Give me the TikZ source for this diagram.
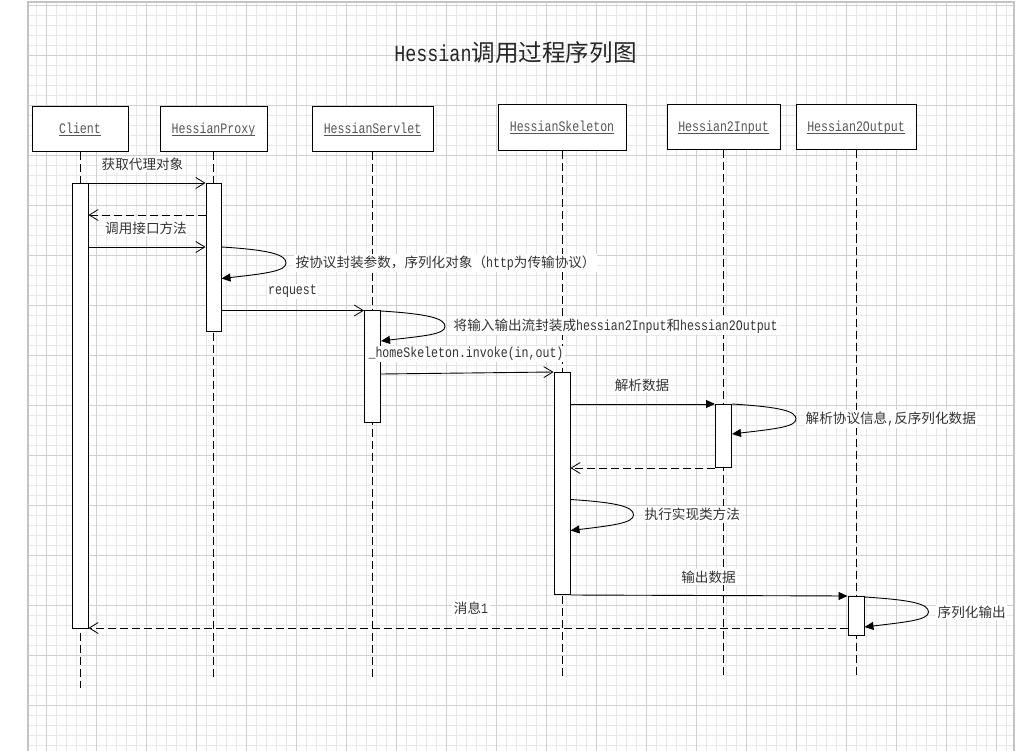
\documentclass[tikz,border=0pt]{standalone}
\usepackage{fontspec}
\newfontfamily\latin[FakeStretch=0.8]{Liberation Mono}
\newfontfamily\cjk{Noto Sans CJK SC}
\usetikzlibrary{arrows.meta,calc}

% Latin runs use a narrow monospaced face, Chinese the CJK face
\newcommand\lt[1]{{\latin\fontsize{14.5}{16}\selectfont #1}}

\definecolor{gridminor}{HTML}{E8E8E8}
\definecolor{gridmajor}{HTML}{D0D0D0}
\definecolor{gridframe}{HTML}{C4C4C4}
\definecolor{labelgray}{HTML}{333333}
\definecolor{headgray}{HTML}{555555}

\tikzset{
  headbox/.style={draw=black, line width=1pt, fill=white, minimum height=45pt, inner sep=0pt},
  lifeline/.style={draw=black, line width=1pt, dash pattern=on 8pt off 4pt},
  bar/.style={draw=black, line width=1pt, fill=white, minimum width=16pt, inner sep=0pt, anchor=north},
  msg/.style={draw=black, line width=0.9pt, -{Straight Barb[length=9pt,width=11pt,line width=0.8pt]}},
  ret/.style={msg, dash pattern=on 8pt off 4pt},
  sync/.style={draw=black, line width=0.9pt, -{Triangle[length=9pt,width=8pt]}},
  selfcall/.style={sync},
  lbl/.style={fill=white, inner sep=1.5pt, text=labelgray, font=\cjk\fontsize{13.6}{15}\selectfont},
  latinlbl/.style={lbl, font=\latin\fontsize{14.5}{16}\selectfont},
}

\begin{document}
\begin{tikzpicture}[x=1pt,y=-1pt]
\useasboundingbox (0,0) rectangle (1016,751);
\fill[white] (0,0) rectangle (1016,751);

% background grid
\begin{scope}
  \clip (28,2) rectangle (1014,751);
  \foreach \gx in {36.5,46.5,...,1010} \draw[gridminor, line width=0.8pt] (\gx,2) -- (\gx,751);
  \foreach \gy in {5.3,15.3,...,750} \draw[gridminor, line width=0.8pt] (28,\gy) -- (1014,\gy);
  \foreach \gx in {46.5,96.5,...,1010} \draw[gridmajor, line width=0.9pt] (\gx,2) -- (\gx,751);
  \foreach \gy in {5.3,55.3,...,750} \draw[gridmajor, line width=0.9pt] (28,\gy) -- (1014,\gy);
\end{scope}
\draw[gridframe, line width=1.3pt] (28,751) -- (28,2) -- (1014,2) -- (1014,751);

% title
\node[text=black!85] (title) at (515.5,53)
  {\latin\fontsize{23}{26}\selectfont Hessian{\cjk\fontsize{23.6}{26}\selectfont 调用过程序列图}};

% participants
\node[headbox, minimum width=96pt]  (client)   at (80,129.5)  {};
\node[headbox, minimum width=107pt] (proxy)    at (213.5,129.5) {};
\node[headbox, minimum width=121pt] (servlet)  at (372.5,129.5) {};
\node[headbox, minimum width=128pt, minimum height=46pt] (skeleton) at (562,128) {};
\node[headbox, minimum width=113pt] (input)    at (723.5,127.5) {};
\node[headbox, minimum width=120pt] (output)   at (856,127.5) {};

\foreach \p/\t in {client/Client, proxy/HessianProxy, servlet/HessianServlet,
                   skeleton/HessianSkeleton, input/Hessian2Input, output/Hessian2Output}
  \node[text=headgray, font=\latin\fontsize{14.5}{16}\selectfont, anchor=base, inner sep=0pt]
    at ($(\p.center)+(0,4)$) {\underline{\smash{\t}}};

% lifelines
\coordinate (clientEnd)   at (client.south |- 0,688);
\coordinate (proxyEnd)    at (proxy.south |- 0,677);
\coordinate (servletEnd)  at (servlet.south |- 0,677);
\coordinate (skeletonEnd) at (skeleton.south |- 0,677);
\coordinate (inputEnd)    at (input.south |- 0,677);
\coordinate (outputEnd)   at (output.south |- 0,677);
\foreach \p in {client, proxy, servlet, skeleton, input, output}
  \draw[lifeline] (\p.south) -- (\p End);

% activation bars
\node[bar, minimum height=445pt] (cb) at (client.south |- 0,183) {};
\node[bar, minimum height=148pt, minimum width=15pt] (pb) at (proxy.south |- 0,183) {};
\node[bar, minimum height=112pt] (sb) at (servlet.south |- 0,310) {};
\node[bar, minimum height=222pt] (kb) at (skeleton.south |- 0,372) {};
\node[bar, minimum height=63pt]  (ib) at (input.south |- 0,404) {};
\node[bar, minimum height=39pt]  (ob) at (output.south |- 0,596) {};

% messages
\draw[msg] (cb.east |- 0,183) -- (pb.west |- 0,183);
\node[lbl] (m1) at (142.5,164) {获取代理对象};

\draw[ret] (pb.west |- 0,215) -- (cb.east |- 0,215);

\draw[msg] (cb.east |- 0,247) -- (pb.west |- 0,247);
\node[lbl] (m2) at (146,228) {调用接口方法};

\coordinate (t1) at (286,263);
\draw[selfcall] (pb.east |- 0,247) .. controls +(50,3) and +(0,-8) .. (t1)
  .. controls +(0,8) and +(45,-5) .. (pb.east |- 0,278.5);
\node[lbl, anchor=west] (m3) at (294,263) {按协议封装参数，序列化对象（\lt{http}为传输协议）};

\draw[msg] (pb.east |- 0,310.5) -- (sb.west |- 0,310.5);
\node[latinlbl] (m4) at (292.5,291.5) {request};

\coordinate (t2) at (445,326.5);
\draw[selfcall] (sb.east |- 0,311) .. controls +(48,3) and +(0,-8) .. (t2)
  .. controls +(0,8) and +(42,-5) .. (sb.east |- 0,341);
\node[lbl, anchor=west] (m5) at (452,326) {将输入输出流封装成\lt{hessian2Input}和\lt{hessian2Output}};

\draw[msg] (sb.east |- 0,374) -- (kb.north west);
\node[latinlbl] (m6) at (466,354) {\_homeSkeleton.invoke(in,out)};

\draw[sync] (kb.east |- 0,404) -- (ib.north west);
\node[lbl] (m7) at (642,385) {解析数据};

\coordinate (t3) at (796,419);
\draw[selfcall] (ib.east |- 0,404) .. controls +(48,3) and +(0,-8) .. (t3)
  .. controls +(0,8) and +(42,-5) .. (ib.east |- 0,434);
\node[lbl, anchor=west] (m8) at (804,419) {解析协议信息\lt{,}反序列化数据};

\draw[ret] (ib.south west) -- (kb.east |- ib.south west);

\coordinate (t4) at (633.5,515);
\draw[selfcall] (kb.east |- 0,499.5) .. controls +(48,3) and +(0,-8) .. (t4)
  .. controls +(0,8) and +(42,-5) .. (kb.east |- 0,530.5);
\node[lbl, anchor=west] (m9) at (643,514) {执行实现类方法};

\draw[sync] (kb.south east) -- (ob.north west);
\node[lbl] (m10) at (708.5,577) {输出数据};

\coordinate (t5) at (928.5,612);
\draw[selfcall] (ob.east |- 0,597) .. controls +(48,3) and +(0,-8) .. (t5)
  .. controls +(0,8) and +(42,-5) .. (ob.east |- 0,627);
\node[lbl, anchor=west] (m11) at (936,612) {序列化输出};

\draw[ret] (ob.west |- 0,628) -- (cb.east |- 0,628);
\node[lbl] (m12) at (471,608) {消息\lt{1}};
\end{tikzpicture}
\end{document}
